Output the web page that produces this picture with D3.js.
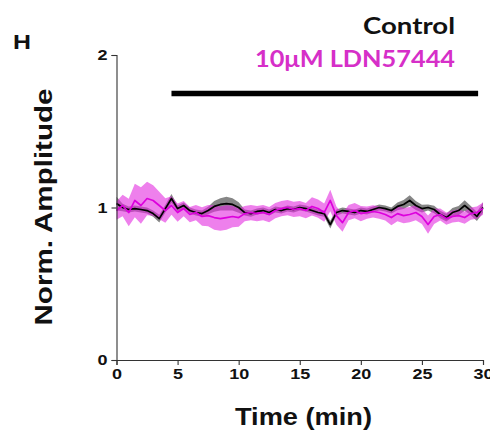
<!DOCTYPE html>
<html>
<head>
<meta charset="utf-8">
<script src="https://cdn.jsdelivr.net/npm/d3@7"></script>
<style>
  html, body { margin: 0; padding: 0; background: #fff; }
  svg { display: block; }
</style>
</head>
<body>
<svg id="chart" width="490" height="444"></svg>
<script>
// Sampling times (min), every 0.5 min over the 30-min recording
const timeMin = d3.range(0, 30.001, 0.5);

// Control: normalised amplitude mean and SEM
const controlMean = [1.026, 1.0, 0.987, 0.993, 0.987, 0.980, 0.960, 0.927, 0.993, 1.059,
  0.993, 1.013, 0.980, 0.967, 0.960, 0.980, 1.007, 1.020, 1.026, 1.020,
  1.0, 0.967, 0.960, 0.974, 0.980, 0.967, 0.987, 0.980, 0.993, 0.987,
  1.0, 0.993, 0.980, 0.967, 0.960, 0.888, 0.967, 0.980, 0.974, 0.967,
  0.980, 0.974, 0.987, 1.0, 0.993, 0.980, 1.007, 1.020, 1.046, 1.013,
  0.993, 1.0, 0.987, 0.954, 0.934, 0.967, 0.980, 1.013, 0.980, 0.941, 1.0];
const controlSem = [0.045, 0.025, 0.02, 0.02, 0.02, 0.02, 0.02, 0.025, 0.025, 0.03,
  0.02, 0.02, 0.02, 0.02, 0.02, 0.025, 0.035, 0.04, 0.045, 0.04,
  0.035, 0.02, 0.02, 0.02, 0.02, 0.02, 0.02, 0.02, 0.02, 0.02,
  0.02, 0.02, 0.02, 0.02, 0.02, 0.025, 0.02, 0.02, 0.02, 0.02,
  0.02, 0.02, 0.02, 0.02, 0.02, 0.02, 0.025, 0.03, 0.035, 0.03,
  0.025, 0.02, 0.025, 0.025, 0.025, 0.03, 0.03, 0.035, 0.03, 0.03, 0.035];

// 10 µM LDN57444: normalised amplitude mean and SEM
const ldnMean = [0.980, 1.013, 0.967, 1.046, 1.013, 1.059, 1.046, 1.013, 0.980, 1.013,
  0.967, 0.993, 0.954, 0.967, 0.941, 0.947, 0.934, 0.927, 0.934, 0.941,
  0.934, 0.960, 0.967, 0.960, 0.967, 0.954, 0.980, 0.993, 1.0, 0.987,
  0.993, 0.980, 1.007, 0.993, 0.967, 1.046, 0.947, 0.901, 0.967, 0.980,
  0.960, 0.967, 0.974, 0.967, 0.954, 0.934, 0.960, 0.947, 0.954, 0.967,
  0.941, 0.888, 0.941, 0.954, 0.927, 0.941, 0.947, 0.934, 0.960, 0.967, 0.993];
const ldnSem = [0.06, 0.07, 0.09, 0.11, 0.12, 0.11, 0.1, 0.09, 0.08, 0.06,
  0.06, 0.05, 0.05, 0.05, 0.06, 0.07, 0.08, 0.08, 0.08, 0.07,
  0.06, 0.05, 0.05, 0.05, 0.05, 0.05, 0.05, 0.05, 0.05, 0.05,
  0.05, 0.05, 0.06, 0.06, 0.06, 0.07, 0.06, 0.06, 0.05, 0.05,
  0.05, 0.04, 0.04, 0.04, 0.04, 0.05, 0.05, 0.05, 0.05, 0.05,
  0.05, 0.06, 0.05, 0.04, 0.04, 0.04, 0.04, 0.04, 0.04, 0.04, 0.04];

// Drug application period (min)
const drugPeriod = [4.5, 29.6];

// Axis ticks
const xTicks = [0, 5, 10, 15, 20, 25, 30];
const yTicks = [0, 1, 2];

const svg = d3.select("#chart");
const margin = { left: 116.5, right: 7, top: 55, bottom: 84 };
const W = 490, H = 444;

const x = d3.scaleLinear().domain([0, 30]).range([margin.left, W - margin.right]);
const y = d3.scaleLinear().domain([0, 2]).range([H - margin.bottom, margin.top]);

// Widen glyphs along the reading direction by factor k
function widen(sel, k) {
  sel.each(function () {
    const L = this.getComputedTextLength();
    d3.select(this).attr("textLength", L * k).attr("lengthAdjust", "spacingAndGlyphs");
  });
}

const series = [
  { mean: controlMean, sem: controlSem, band: "#3c3c3c", bandOpacity: 0.62, line: "#000000" },
  { mean: ldnMean, sem: ldnSem, band: "#e22be0", bandOpacity: 0.6, line: "#dd00dd" }
];

const rows = s => timeMin.map((t, i) => ({ t, m: s.mean[i], e: s.sem[i] }));

const area = d3.area()
  .x(d => x(d.t))
  .y0(d => y(d.m - d.e))
  .y1(d => y(d.m + d.e));
const line = d3.line().x(d => x(d.t)).y(d => y(d.m));

// SEM bands
series.forEach(s => {
  svg.append("path")
    .datum(rows(s))
    .attr("d", area)
    .attr("fill", s.band)
    .attr("fill-opacity", s.bandOpacity)
    .attr("stroke", "none");
});
// Mean traces
series.forEach(s => {
  svg.append("path")
    .datum(rows(s))
    .attr("d", line)
    .attr("fill", "none")
    .attr("stroke", s.line)
    .attr("stroke-width", 1.7)
    .attr("stroke-linejoin", "round");
});

// Axes
const axisFont = "bold 15px 'Liberation Sans', Arial, sans-serif";
const xAxis = svg.append("g")
  .attr("transform", `translate(0,${y(0)})`)
  .call(d3.axisBottom(x).tickValues(xTicks).tickFormat(d3.format("d")).tickSize(5).tickPadding(3));
const yAxis = svg.append("g")
  .attr("transform", `translate(${x(0)},0)`)
  .call(d3.axisLeft(y).tickValues(yTicks).tickFormat(d3.format("d")).tickSize(5).tickPadding(4));
[xAxis, yAxis].forEach(g => {
  g.select(".domain").attr("stroke", "#333").attr("stroke-width", 1.1);
  g.selectAll(".tick line").attr("stroke", "#333").attr("stroke-width", 1.1);
  g.selectAll(".tick text").style("font", axisFont).attr("fill", "#111");
  widen(g.selectAll(".tick text"), 1.2);
});

// Axis titles
const titleFont = "bold 23px 'Liberation Sans', Arial, sans-serif";
svg.append("text")
  .attr("x", 303.5)
  .attr("y", 425)
  .attr("text-anchor", "middle")
  .style("font", titleFont)
  .attr("fill", "#111")
  .attr("textLength", 137)
  .attr("lengthAdjust", "spacingAndGlyphs")
  .text("Time (min)");
svg.append("text")
  .attr("transform", `translate(52,${207}) rotate(-90)`)
  .attr("text-anchor", "middle")
  .style("font", titleFont)
  .attr("fill", "#111")
  .attr("textLength", 237)
  .attr("lengthAdjust", "spacingAndGlyphs")
  .text("Norm. Amplitude");

// Panel letter
svg.append("text")
  .attr("x", 13).attr("y", 49)
  .style("font", "bold 20px 'Liberation Sans', Arial, sans-serif")
  .attr("fill", "#111")
  .attr("textLength", 18)
  .attr("lengthAdjust", "spacingAndGlyphs")
  .text("H");

// Legend
const legendFont = "bold 22px Lato, 'Open Sans', sans-serif";
svg.append("text")
  .attr("x", 455).attr("y", 34)
  .attr("text-anchor", "end")
  .style("font", legendFont)
  .attr("fill", "#111")
  .attr("textLength", 92)
  .attr("lengthAdjust", "spacingAndGlyphs")
  .text("Control");
svg.append("text")
  .attr("x", 455).attr("y", 67)
  .attr("text-anchor", "end")
  .style("font", legendFont)
  .attr("fill", "#d62fc8")
  .attr("textLength", 200)
  .attr("lengthAdjust", "spacingAndGlyphs")
  .text("10μM LDN57444");

// Drug application bar
svg.append("line")
  .attr("x1", x(drugPeriod[0])).attr("x2", x(drugPeriod[1]))
  .attr("y1", 93.5).attr("y2", 93.5)
  .attr("stroke", "#000")
  .attr("stroke-width", 5.5);
</script>
</body>
</html>
